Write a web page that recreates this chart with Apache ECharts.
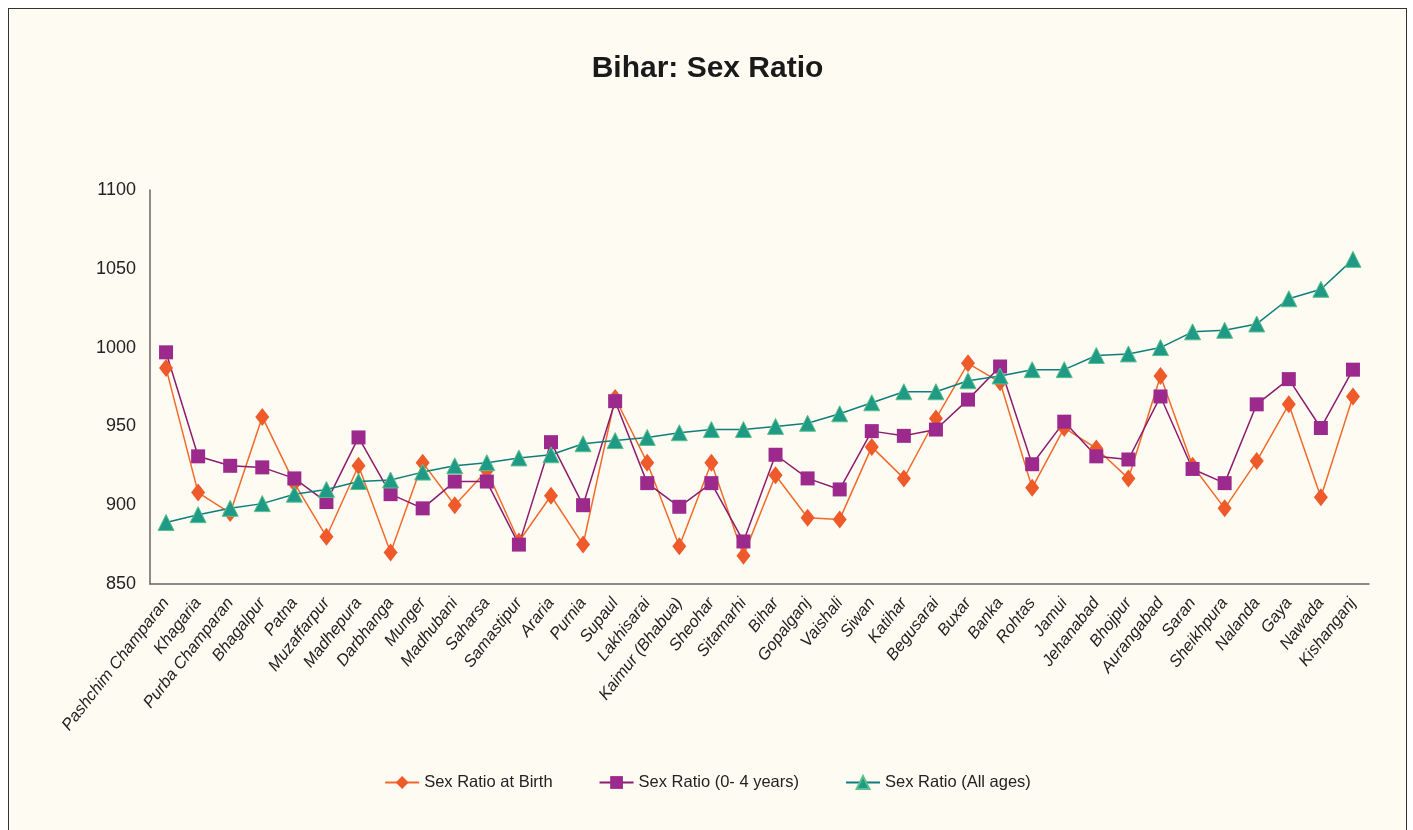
<!DOCTYPE html>
<html>
<head>
<meta charset="utf-8">
<script src="https://cdn.jsdelivr.net/npm/echarts@6/dist/echarts.min.js"></script>
<style>
  html, body { margin: 0; padding: 0; background: #fff; overflow: hidden; }
  #chart {
    position: absolute; left: 8px; top: 8px;
    width: 1397px; height: 840px;
    border: 1px solid #333; background: #fefbf3;
  }
</style>
</head>
<body>
<div id="chart"></div>
<script>
const districts = [
  'Pashchim Champaran', 'Khagaria', 'Purba Champaran', 'Bhagalpur', 'Patna',
  'Muzaffarpur', 'Madhepura', 'Darbhanga', 'Munger', 'Madhubani', 'Saharsa',
  'Samastipur', 'Araria', 'Purnia', 'Supaul', 'Lakhisarai', 'Kaimur (Bhabua)',
  'Sheohar', 'Sitamarhi', 'Bihar', 'Gopalganj', 'Vaishali', 'Siwan', 'Katihar',
  'Begusarai', 'Buxar', 'Banka', 'Rohtas', 'Jamui', 'Jehanabad', 'Bhojpur',
  'Aurangabad', 'Saran', 'Sheikhpura', 'Nalanda', 'Gaya', 'Nawada', 'Kishanganj'
];

const ratioAtBirth = [
  987, 908, 895, 956, 914, 880, 925, 870, 927, 900, 922, 877, 906, 875, 968,
  927, 874, 927, 868, 919, 892, 891, 937, 917, 955, 990, 978, 911, 949, 936,
  917, 982, 925, 898, 928, 964, 905, 969
];

const ratio0to4 = [
  997, 931, 925, 924, 917, 902, 943, 907, 898, 915, 915, 875, 940, 900, 966,
  914, 899, 914, 877, 932, 917, 910, 947, 944, 948, 967, 988, 926, 953, 931,
  929, 969, 923, 914, 964, 980, 949, 986
];

const ratioAllAges = [
  889, 894, 898, 901, 907, 910, 915, 916, 921, 925, 927, 930, 932, 939, 941,
  943, 946, 948, 948, 950, 952, 958, 965, 972, 972, 979, 982, 986, 986, 995,
  996, 1000, 1010, 1011, 1015, 1031, 1037, 1056
];

const yTicks = { min: 850, max: 1100, step: 50 };

const font = '"Liberation Sans", Arial, sans-serif';

const chart = echarts.init(document.getElementById('chart'));

const option = {
  backgroundColor: 'transparent',
  textStyle: { fontFamily: font },
  title: {
    text: 'Bihar: Sex Ratio',
    left: 'center',
    top: 40,
    textStyle: {
      fontFamily: font,
      fontSize: 30,
      fontWeight: 'bold',
      color: '#1a1a1a'
    }
  },
  legend: {
    left: 'center',
    top: 760,
    itemWidth: 34,
    itemHeight: 16,
    itemGap: 46,
    textStyle: { fontFamily: font, fontSize: 16.5, color: '#222' },
    data: ['Sex Ratio at Birth', 'Sex Ratio (0- 4 years)', 'Sex Ratio (All ages)']
  },
  grid: { left: 141, right: 37, top: 181, height: 394 },
  xAxis: {
    type: 'category',
    data: districts,
    boundaryGap: true,
    axisLine: { lineStyle: { color: '#666', width: 1.5 } },
    axisTick: { show: false },
    axisLabel: {
      interval: 0,
      rotate: 52,
      fontStyle: 'italic',
      fontSize: 16.5,
      color: '#222',
      margin: 16
    }
  },
  yAxis: {
    type: 'value',
    min: yTicks.min,
    max: yTicks.max,
    interval: yTicks.step,
    axisLine: { show: true, lineStyle: { color: '#666', width: 1.5 } },
    axisTick: { show: false },
    splitLine: { show: false },
    axisLabel: {
      fontSize: 18,
      color: '#222',
      margin: 14,
      formatter: (v) => String(v)
    }
  },
  series: [
    {
      name: 'Sex Ratio at Birth',
      type: 'line',
      data: ratioAtBirth,
      symbol: 'diamond',
      symbolSize: [14, 18],
      lineStyle: { color: '#f26a2a', width: 1.5 },
      itemStyle: { color: '#ee5a2a' }
    },
    {
      name: 'Sex Ratio (0- 4 years)',
      type: 'line',
      data: ratio0to4,
      symbol: 'rect',
      symbolSize: 14,
      lineStyle: { color: '#8c1c6e', width: 1.5 },
      itemStyle: { color: '#9c2a8c' }
    },
    {
      name: 'Sex Ratio (All ages)',
      type: 'line',
      data: ratioAllAges,
      symbol: 'triangle',
      symbolSize: 16,
      lineStyle: { color: '#0e7e7c', width: 1.5 },
      itemStyle: { color: '#1f9a86', borderColor: '#5cc08a', borderWidth: 1 }
    }
  ]
};

chart.setOption(option);
window.addEventListener('resize', () => chart.resize());
</script>
</body>
</html>
